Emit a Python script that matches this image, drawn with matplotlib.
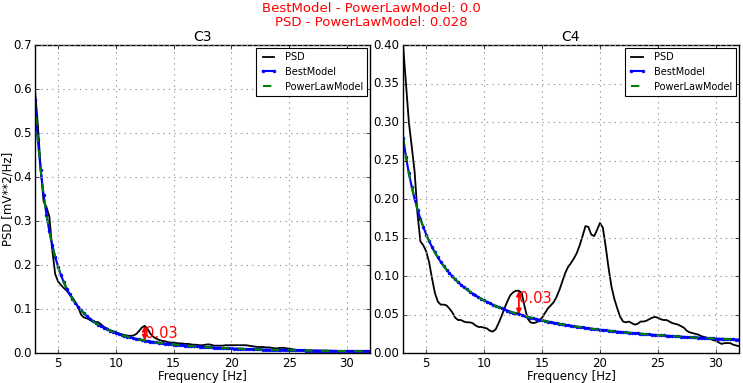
import numpy as np
import matplotlib
matplotlib.use('Agg')
import matplotlib.pyplot as plt

# frequency axis [Hz]
freqs = np.arange(3.0, 32.001, 0.25)

# channel C3
psd_c3 = [0.600, 0.520, 0.420, 0.345, 0.332, 0.310, 0.235, 0.180, 0.163, 0.155,
          0.148, 0.142, 0.134, 0.126, 0.116, 0.104, 0.087, 0.081, 0.079, 0.076,
          0.072, 0.071, 0.070, 0.065, 0.059, 0.056, 0.052, 0.050, 0.048, 0.045,
          0.043, 0.041, 0.040, 0.039, 0.040, 0.043, 0.050, 0.058, 0.062, 0.055,
          0.044, 0.037, 0.033, 0.030, 0.028, 0.027, 0.025, 0.024, 0.024, 0.023,
          0.022, 0.022, 0.021, 0.021, 0.020, 0.019, 0.019, 0.018, 0.018, 0.019,
          0.020, 0.019, 0.017, 0.017, 0.017, 0.017, 0.018, 0.018, 0.018, 0.018,
          0.018, 0.018, 0.018, 0.018, 0.017, 0.016, 0.015, 0.014, 0.014, 0.014,
          0.013, 0.013, 0.012, 0.011, 0.011, 0.012, 0.012, 0.011, 0.010, 0.009,
          0.008, 0.007, 0.007, 0.0065, 0.0062, 0.0060, 0.0059, 0.0058, 0.0057, 0.0056,
          0.0055, 0.0054, 0.0053, 0.0052, 0.0051, 0.0050, 0.0049, 0.0048, 0.0047, 0.0046,
          0.0045, 0.0045, 0.0044, 0.0043, 0.0042, 0.0042, 0.0041]
model_c3 = [0.5750, 0.4860, 0.4159, 0.3598, 0.3142, 0.2767, 0.2454, 0.2191, 0.1967, 0.1776,
            0.1611, 0.1467, 0.1341, 0.1231, 0.1134, 0.1048, 0.0971, 0.0902, 0.0840, 0.0784,
            0.0733, 0.0687, 0.0645, 0.0607, 0.0572, 0.0540, 0.0511, 0.0484, 0.0459, 0.0436,
            0.0414, 0.0394, 0.0376, 0.0358, 0.0342, 0.0327, 0.0313, 0.0300, 0.0287, 0.0275,
            0.0264, 0.0254, 0.0244, 0.0235, 0.0226, 0.0218, 0.0210, 0.0203, 0.0196, 0.0189,
            0.0183, 0.0177, 0.0171, 0.0165, 0.0160, 0.0155, 0.0151, 0.0146, 0.0142, 0.0137,
            0.0134, 0.0130, 0.0126, 0.0122, 0.0119, 0.0116, 0.0113, 0.0110, 0.0107, 0.0104,
            0.0102, 0.0099, 0.0097, 0.0094, 0.0092, 0.0090, 0.0088, 0.0086, 0.0084, 0.0082,
            0.0080, 0.0078, 0.0076, 0.0075, 0.0073, 0.0071, 0.0070, 0.0068, 0.0067, 0.0066,
            0.0064, 0.0063, 0.0062, 0.0060, 0.0059, 0.0058, 0.0057, 0.0056, 0.0055, 0.0054,
            0.0053, 0.0052, 0.0051, 0.0050, 0.0049, 0.0048, 0.0047, 0.0047, 0.0046, 0.0045,
            0.0044, 0.0043, 0.0043, 0.0042, 0.0041, 0.0041, 0.0040]

# channel C4
psd_c4 = [0.400, 0.350, 0.300, 0.268, 0.235, 0.180, 0.145, 0.140, 0.132, 0.118,
          0.097, 0.078, 0.067, 0.063, 0.063, 0.062, 0.058, 0.053, 0.046, 0.043,
          0.043, 0.041, 0.040, 0.040, 0.039, 0.036, 0.034, 0.034, 0.033, 0.032,
          0.029, 0.028, 0.031, 0.039, 0.048, 0.058, 0.067, 0.075, 0.079, 0.081,
          0.081, 0.078, 0.060, 0.045, 0.040, 0.039, 0.040, 0.042, 0.046, 0.052,
          0.058, 0.062, 0.066, 0.073, 0.082, 0.093, 0.104, 0.112, 0.117, 0.123,
          0.130, 0.140, 0.152, 0.165, 0.164, 0.154, 0.152, 0.160, 0.169, 0.163,
          0.138, 0.110, 0.086, 0.070, 0.058, 0.047, 0.041, 0.040, 0.041, 0.039,
          0.037, 0.038, 0.041, 0.041, 0.042, 0.044, 0.046, 0.047, 0.046, 0.044,
          0.043, 0.043, 0.041, 0.039, 0.038, 0.037, 0.035, 0.033, 0.029, 0.027,
          0.026, 0.025, 0.024, 0.022, 0.021, 0.020, 0.019, 0.017, 0.016, 0.014,
          0.012, 0.013, 0.013, 0.013, 0.011, 0.010, 0.009]
model_c4 = [0.2800, 0.2550, 0.2338, 0.2157, 0.2000, 0.1863, 0.1742, 0.1636, 0.1540, 0.1455,
            0.1378, 0.1308, 0.1244, 0.1186, 0.1133, 0.1084, 0.1039, 0.0997, 0.0958, 0.0922,
            0.0889, 0.0857, 0.0828, 0.0800, 0.0774, 0.0750, 0.0727, 0.0705, 0.0685, 0.0665,
            0.0647, 0.0629, 0.0612, 0.0596, 0.0581, 0.0567, 0.0553, 0.0540, 0.0527, 0.0515,
            0.0504, 0.0493, 0.0482, 0.0472, 0.0462, 0.0452, 0.0443, 0.0435, 0.0426, 0.0418,
            0.0410, 0.0402, 0.0395, 0.0388, 0.0381, 0.0374, 0.0368, 0.0362, 0.0356, 0.0350,
            0.0344, 0.0339, 0.0333, 0.0328, 0.0323, 0.0318, 0.0313, 0.0309, 0.0304, 0.0300,
            0.0296, 0.0291, 0.0287, 0.0283, 0.0279, 0.0276, 0.0272, 0.0269, 0.0265, 0.0262,
            0.0258, 0.0255, 0.0252, 0.0249, 0.0246, 0.0243, 0.0240, 0.0237, 0.0234, 0.0232,
            0.0229, 0.0226, 0.0224, 0.0221, 0.0219, 0.0217, 0.0214, 0.0212, 0.0210, 0.0207,
            0.0205, 0.0203, 0.0201, 0.0199, 0.0197, 0.0195, 0.0193, 0.0191, 0.0189, 0.0187,
            0.0186, 0.0184, 0.0182, 0.0180, 0.0179, 0.0177, 0.0176]

channels = ['C3', 'C4']
psds = [psd_c3, psd_c4]
models = [model_c3, model_c4]
ylims = [0.7, 0.40]
yticks = [np.arange(0, 0.71, 0.1), np.arange(0, 0.401, 0.05)]
peak_freqs = [12.5, 13.0]
diff_labels = ['0.03', '0.03']

title_txt = 'BestModel - PowerLawModel: 0.0\nPSD - PowerLawModel: 0.028'

###################################################################

plt.style.use('classic')
plt.rcParams['font.family'] = 'DejaVu Sans'

fig = plt.figure(figsize=(7.43, 3.83), dpi=100, facecolor='white')
axes_pos = [[0.047, 0.078, 0.451, 0.804], [0.5425, 0.078, 0.452, 0.804]]

for i in range(2):
    ax = fig.add_axes(axes_pos[i])
    psd = np.array(psds[i])
    model = np.array(models[i])
    ax.plot(freqs, psd, 'k-', lw=1.3, label='PSD')
    ax.plot(freqs, model, 'b.-', lw=1.5, ms=4, mec='b', label='BestModel')
    ax.plot(freqs, model, 'g--', lw=1.5, label='PowerLawModel')

    # difference between PSD and model at the peak
    k = int(np.argmin(np.abs(freqs - peak_freqs[i])))
    ax.annotate('', xy=(freqs[k], psd[k]), xytext=(freqs[k], model[k]),
                arrowprops=dict(arrowstyle='<|-|>', color='red', lw=1.3,
                                mutation_scale=7, shrinkA=0, shrinkB=0))
    ax.text(freqs[k], psd[k], diff_labels[i], color='red', fontsize=10.5,
            ha='left', va='top')

    ax.set_xlim(3, 32)
    ax.set_ylim(0, ylims[i])
    ax.set_xticks([5, 10, 15, 20, 25, 30])
    ax.set_yticks(yticks[i])
    if i == 1:
        ax.set_yticklabels(['%.2f' % v for v in yticks[i]])
    ax.tick_params(labelsize=8.5, length=3, pad=2.5)
    ax.grid(True, color='0.6', linestyle=':', lw=0.8)
    ax.set_title(channels[i], fontsize=10, pad=3)
    ax.set_xlabel('Frequency [Hz]', fontsize=8.5, labelpad=0)
    if i == 0:
        ax.set_ylabel('PSD [mV**2/Hz]', fontsize=8.5)
        ax.yaxis.set_label_coords(-0.062, 0.5)
    leg = ax.legend(loc='upper right', fontsize=7, borderaxespad=0.3,
                    handlelength=1.8, fancybox=False, numpoints=2)
    leg.get_frame().set_linewidth(0.8)

fig.text(0.5, 0.995, title_txt, color='red', fontsize=9.5, ha='center',
         va='top', linespacing=1.15)

plt.savefig('out.png', dpi=100, facecolor='white')
